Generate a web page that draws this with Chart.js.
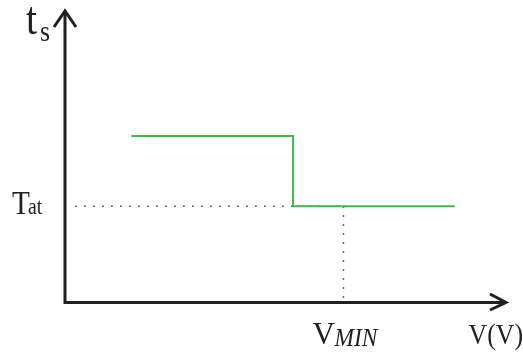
<!DOCTYPE html>
<html>
<head>
<meta charset="utf-8">
<script src="https://cdn.jsdelivr.net/npm/chart.js@4"></script>
<style>
html, body { margin: 0; padding: 0; background: #fff; }
#wrap { width: 523px; height: 358px; }
</style>
</head>
<body>
<div id="wrap"><canvas id="chart"></canvas></div>
<script>
// step curve (axis units 0..100)
const stepX = [15, 51.6, 51.6, 88.2];
const stepY = [56.7, 56.7, 32.6, 32.6];
const tatLevel = 32.6;
const vMin = 63;
const guideStart = 2.3;

const yLabel = ['t', 's'];
const levelLabel = ['T', 'at'];
const markLabel = ['V', 'MIN'];
const xLabel = 'V(V)';

const serif = '"Liberation Serif", "DejaVu Serif", serif';

// text squeezed a little horizontally, like the source figure
function label(ctx, text, font, x, y, align, sx) {
    ctx.save();
    ctx.font = font;
    ctx.textAlign = align || 'left';
    ctx.translate(x, y);
    ctx.scale(sx || 0.86, 1);
    ctx.fillText(text, 0, 0);
    ctx.restore();
}

const axesPlugin = {
    id: 'axes',
    beforeDatasetsDraw(chart) {
        const { ctx, scales: { x, y } } = chart;
        const x0 = x.getPixelForValue(0), x1 = x.getPixelForValue(100);
        const y0 = y.getPixelForValue(0), y1 = y.getPixelForValue(100);
        ctx.save();
        ctx.strokeStyle = '#231f20';
        ctx.lineWidth = 3;
        ctx.beginPath();
        ctx.moveTo(x0, y1 + 1);
        ctx.lineTo(x0, y0 + 1.5);
        ctx.lineTo(x1 - 1, y0 + 1.5);
        ctx.stroke();
        // arrow heads
        ctx.beginPath();
        ctx.moveTo(x0 - 11, y1 + 17);
        ctx.lineTo(x0, y1 + 1);
        ctx.lineTo(x0 + 11, y1 + 17);
        ctx.moveTo(x1 - 17, y0 - 7);
        ctx.lineTo(x1 - 1, y0 + 1.5);
        ctx.lineTo(x1 - 17, y0 + 9);
        ctx.stroke();
        ctx.restore();
    },
    afterDraw(chart) {
        const { ctx, scales: { x, y } } = chart;
        const y0 = y.getPixelForValue(0);
        const yTat = y.getPixelForValue(tatLevel);
        const xMin = x.getPixelForValue(vMin);
        ctx.save();
        ctx.fillStyle = '#231f20';
        ctx.textBaseline = 'alphabetic';

        label(ctx, yLabel[0], '46px ' + serif, 26, 34);
        label(ctx, yLabel[1], '30px ' + serif, 40, 41);

        label(ctx, levelLabel[0], '34px ' + serif, 12, yTat + 8);
        label(ctx, levelLabel[1], '23px ' + serif, 28, yTat + 8);

        label(ctx, markLabel[0], '31px ' + serif, xMin - 31, y0 + 43, 'left', 1);
        label(ctx, markLabel[1], 'italic 26px ' + serif, xMin - 9, y0 + 45, 'left', 0.9);

        label(ctx, xLabel, '30px ' + serif, 523, y0 + 43, 'right');
        ctx.restore();
    }
};

new Chart(document.getElementById('chart'), {
    type: 'scatter',
    data: {
        datasets: [
            {
                data: stepX.map((v, i) => ({ x: v, y: stepY[i] })),
                showLine: true, borderColor: '#46b54d', borderWidth: 2,
                pointRadius: 0, tension: 0, order: 1
            },
            {
                data: [{ x: guideStart, y: tatLevel }, { x: vMin, y: tatLevel }],
                showLine: true, borderColor: '#3a3a3a', borderWidth: 1.5,
                borderDash: [1.5, 7.5], pointRadius: 0, order: 2
            },
            {
                data: [{ x: vMin, y: tatLevel }, { x: vMin, y: 0 }],
                showLine: true, borderColor: '#3a3a3a', borderWidth: 1.5,
                borderDash: [1.5, 7.5], pointRadius: 0, order: 2
            }
        ]
    },
    options: {
        responsive: true, maintainAspectRatio: false, animation: false,
        layout: { padding: { left: 65, right: 16, top: 10, bottom: 57 } },
        plugins: { legend: { display: false }, tooltip: { enabled: false } },
        scales: {
            x: { type: 'linear', min: 0, max: 100, display: false },
            y: { type: 'linear', min: 0, max: 100, display: false }
        }
    },
    plugins: [axesPlugin]
});
</script>
</body>
</html>
